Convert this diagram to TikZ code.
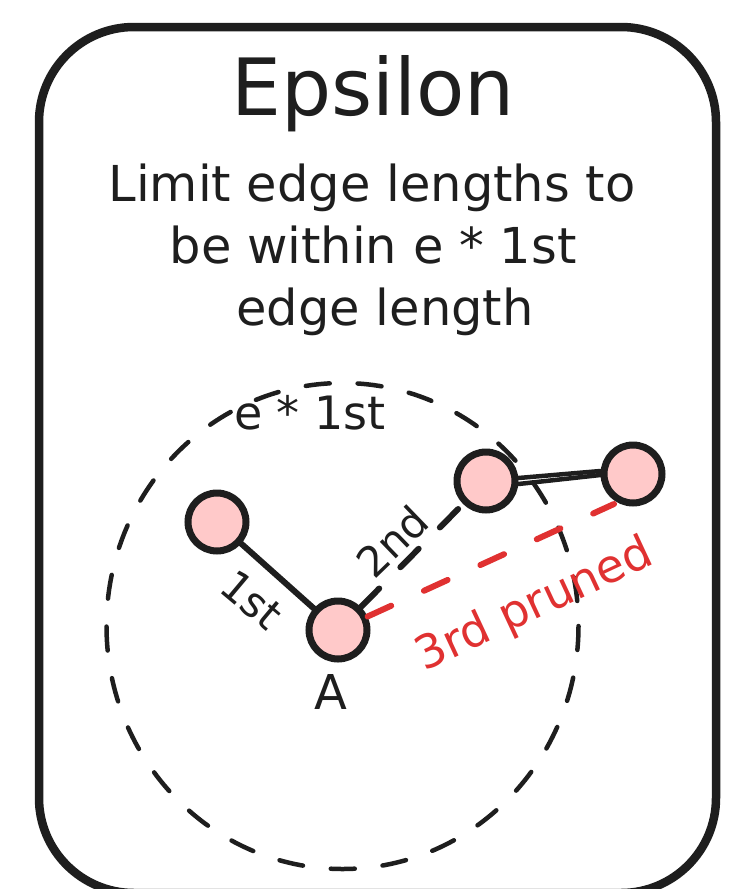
\documentclass[tikz,border=0pt]{standalone}
\usepackage{fontspec}
\setmainfont{DejaVu Sans}
\definecolor{ink}{HTML}{1E1E1E}
\definecolor{nodefill}{HTML}{FFC9C9}
\definecolor{prune}{HTML}{E03131}
\begin{document}
\begin{tikzpicture}[x=1pt,y=-1pt,
  vert/.style={circle,draw=ink,fill=nodefill,line width=7pt,minimum size=58pt,inner sep=0pt},
  solidedge/.style={draw=ink,line width=6pt,line cap=round},
  dashedge/.style={draw=ink,line width=6pt,line cap=round,dash pattern=on 26pt off 30pt},
  prunededge/.style={draw=prune,line width=6pt,line cap=round,dash pattern=on 26pt off 36pt},
  ring/.style={draw=ink,line width=4.5pt,line cap=round,dash pattern=on 24pt off 28pt},
  frame/.style={draw=ink,line width=8.5pt,rounded corners=95pt},
  lbl/.style={text=ink,inner sep=0pt,font=\fontsize{42}{48}\selectfont},
  body/.style={text=ink,inner sep=0pt,anchor=base,font=\fontsize{49.5}{56}\selectfont}]
\useasboundingbox (0,0) rectangle (739,889);
\begin{scope}
\clip (0,0) rectangle (739,889);
\draw[frame] (39,27) rectangle (716,893);
\end{scope}
% title and description
\node[body,font=\fontsize{79}{90}\selectfont] (title) at (373,115) {Epsilon};
\node[body] (d1) at (372,201) {Limit edge lengths to};
\node[body] (d2) at (373,263) {be within e * 1st};
\node[body] (d3) at (385,325) {edge length};
% epsilon range
\draw[ring] (342.5,626) ellipse [x radius=236, y radius=243];
\node[lbl,font=\fontsize{46}{52}\selectfont] (eps) at (310,413) {e * 1st};
% vertices
\node[vert] (L) at (217,522) {};
\node[vert] (A) at (338,630) {};
\node[vert] (T) at (486,481) {};
\node[vert] (R) at (633,474) {};
\coordinate (rend) at (614,504);
% edges
\draw[solidedge] (L) -- (A);
\draw[dashedge] (A) -- (T);
\draw[prunededge] (A) -- (rend);
\draw[solidedge,line width=4.5pt] ([yshift=3pt]T.east) -- ([yshift=3pt]R.west);
\draw[solidedge,line width=4.5pt] ([yshift=-3pt]T.east) -- ([yshift=-1pt]R.west);
% labels
\node[lbl,rotate=-40] (l1) at (252,600) {1st};
\node[lbl,rotate=44] (l2) at (392,541) {2nd};
\node[lbl,rotate=25,text=prune,font=\fontsize{46}{52}\selectfont] (l3) at (535,606) {3rd pruned};
\node[lbl,font=\fontsize{48}{54}\selectfont] (la) at (331,692) {A};
\end{tikzpicture}
\end{document}
